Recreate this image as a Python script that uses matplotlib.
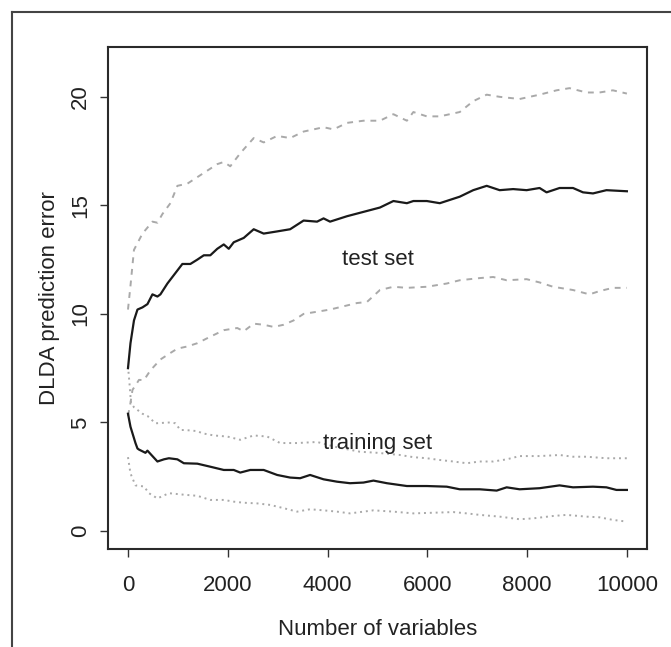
import matplotlib
matplotlib.use("Agg")
import matplotlib.pyplot as plt
from matplotlib.lines import Line2D

plt.rcParams['font.family'] = ['Liberation Sans', 'DejaVu Sans']

# test set: upper band (dashed), mean (solid), lower band (dashed)
test_hi_x = [0, 50, 120, 290, 490, 590, 690, 850, 990, 1190, 1390, 1590, 1790, 1920, 2050, 2250,
             2520, 2720, 2990, 3250, 3520, 3920, 4120, 4390, 4720, 5050, 5320, 5590, 5720, 5990,
             6250, 6650, 6920, 7190, 7450, 7850, 8250, 8590, 8850, 9190, 9450, 9720, 10000]
test_hi_y = [10.2, 11.3, 12.95, 13.7, 14.25, 14.2, 14.6, 15.1, 15.9, 16.0, 16.3, 16.6, 16.9, 17.0, 16.8, 17.4,
             18.1, 17.9, 18.2, 18.1, 18.4, 18.6, 18.5, 18.8, 18.9, 18.9, 19.2, 18.9, 19.3, 19.1,
             19.1, 19.3, 19.8, 20.1, 20.0, 19.9, 20.1, 20.3, 20.4, 20.2, 20.2, 20.3, 20.15]

test_x = [0, 50, 120, 190, 290, 390, 490, 590, 650, 790, 990, 1090, 1250, 1390, 1520, 1650, 1790,
          1920, 2020, 2120, 2320, 2520, 2720, 2990, 3250, 3520, 3790, 3920, 4050, 4390, 4720, 5050,
          5320, 5590, 5720, 5990, 6250, 6650, 6920, 7190, 7450, 7720, 7990, 8250, 8390, 8650, 8920,
          9120, 9320, 9590, 10000]
test_y = [7.5, 8.65, 9.7, 10.2, 10.3, 10.45, 10.9, 10.8, 10.9, 11.4, 12.0, 12.3, 12.3, 12.5, 12.7, 12.7, 13.0,
          13.2, 13.0, 13.3, 13.5, 13.9, 13.7, 13.8, 13.9, 14.3, 14.25, 14.4, 14.25, 14.5, 14.7, 14.9,
          15.2, 15.1, 15.2, 15.2, 15.1, 15.4, 15.7, 15.9, 15.7, 15.75, 15.7, 15.8, 15.6, 15.8, 15.8,
          15.6, 15.55, 15.7, 15.65]

test_lo_x = [0, 50, 90, 150, 220, 320, 450, 650, 850, 990, 1190, 1390, 1650, 1920, 2190, 2320, 2520,
             2720, 2920, 3120, 3320, 3520, 3790, 4050, 4320, 4590, 4790, 5050, 5320, 5590, 5990, 6390,
             6650, 7050, 7320, 7590, 7990, 8250, 8520, 8920, 9250, 9450, 9720, 10000]
test_lo_y = [5.3, 5.9, 6.5, 6.7, 6.96, 6.95, 7.4, 7.9, 8.2, 8.4, 8.5, 8.65, 8.95, 9.25, 9.35, 9.2, 9.55,
             9.5, 9.4, 9.5, 9.7, 10.0, 10.1, 10.2, 10.35, 10.5, 10.55, 11.1, 11.25, 11.2, 11.25, 11.4,
             11.55, 11.65, 11.7, 11.55, 11.6, 11.45, 11.25, 11.1, 10.9, 11.05, 11.2, 11.2]

# training set: upper band (dotted), mean (solid), lower band (dotted)
train_hi_x = [0, 30, 60, 120, 290, 390, 550, 850, 950, 1050, 1150, 1390, 1490, 1720, 1990, 2250,
              2520, 2790, 3050, 3390, 3790, 4200, 4650, 5000, 5450, 5720, 5990, 6250, 6520, 6790,
              7050, 7320, 7590, 7850, 8250, 8650, 8920, 9190, 9590, 10000]
train_hi_y = [7.6, 6.8, 5.9, 5.7, 5.4, 5.3, 4.96, 5.0, 4.96, 4.65, 4.65, 4.6, 4.5, 4.4, 4.35, 4.2,
              4.4, 4.35, 4.05, 4.05, 4.1, 3.85, 3.65, 3.6, 3.5, 3.4, 3.35, 3.27, 3.2, 3.12,
              3.2, 3.2, 3.3, 3.45, 3.45, 3.5, 3.42, 3.42, 3.35, 3.35]

train_x = [0, 50, 90, 150, 190, 220, 350, 390, 590, 720, 820, 990, 1120, 1390, 1650, 1920, 2120, 2250,
           2450, 2720, 2990, 3250, 3450, 3650, 3920, 4190, 4450, 4720, 4920, 5190, 5590, 5990, 6390,
           6650, 7050, 7390, 7590, 7850, 8250, 8650, 8920, 9320, 9590, 9790, 10000]
train_y = [5.4, 4.8, 4.5, 4.05, 3.8, 3.75, 3.6, 3.7, 3.2, 3.3, 3.35, 3.3, 3.12, 3.1, 2.96, 2.81, 2.81, 2.69,
           2.81, 2.81, 2.58, 2.46, 2.43, 2.58, 2.38, 2.27, 2.2, 2.23, 2.32, 2.2, 2.07, 2.07, 2.04,
           1.92, 1.92, 1.86, 2.01, 1.92, 1.97, 2.1, 2.01, 2.04, 2.01, 1.89, 1.89]

train_lo_x = [0, 50, 150, 320, 420, 590, 820, 1120, 1390, 1650, 1920, 2120, 2320, 2590, 2850, 3120,
              3390, 3650, 3920, 4190, 4450, 4720, 4920, 5320, 5720, 6120, 6520, 6790, 7050, 7450,
              7850, 8120, 8520, 8790, 9190, 9450, 9720, 10000]
train_lo_y = [3.4, 2.65, 2.1, 2.05, 1.74, 1.5, 1.74, 1.67, 1.62, 1.43, 1.43, 1.35, 1.3, 1.27, 1.2, 1.05,
              0.89, 1.0, 0.95, 0.89, 0.81, 0.89, 0.95, 0.89, 0.81, 0.84, 0.87, 0.81, 0.74, 0.66,
              0.54, 0.58, 0.69, 0.74, 0.66, 0.63, 0.51, 0.43]

x_ticks = [0, 2000, 4000, 6000, 8000, 10000]
y_ticks = [0, 5, 10, 15, 20]

fig = plt.figure(figsize=(6.71, 6.47), dpi=100)
ax = fig.add_axes([0.161, 0.1515, 0.803, 0.776])

gray = '#a9a9a9'
ax.plot(test_hi_x, test_hi_y, color=gray, lw=1.4, linestyle=(0, (3, 3)))
ax.plot(test_lo_x, test_lo_y, color=gray, lw=1.4, linestyle=(0, (3, 3)))
ax.plot(train_hi_x, train_hi_y, color=gray, lw=1.4, linestyle=(0, (1, 2)))
ax.plot(train_lo_x, train_lo_y, color=gray, lw=1.4, linestyle=(0, (1, 2)))
ax.plot(test_x, test_y, color='#1a1a1a', lw=1.6)
ax.plot(train_x, train_y, color='#1a1a1a', lw=1.6)

fs = 16
ax.text(5000, 12.5, "test set", ha='center', va='center', fontsize=fs, color='#222222')
ax.text(5000, 4.05, "training set", ha='center', va='center', fontsize=fs, color='#222222')

ax.set_xlim(-400, 10400)
ax.set_ylim(-0.83, 22.3)
ax.set_xticks(x_ticks)
ax.set_yticks(y_ticks)
ax.tick_params(axis='both', length=6, width=1, color='#333333', labelsize=fs,
               labelcolor='#222222')
ax.tick_params(axis='x', pad=13)
ax.tick_params(axis='y', pad=6)
for lab in ax.get_yticklabels():
    lab.set_rotation(90)
    lab.set_va('center')

for s in ax.spines.values():
    s.set_linewidth(1.5)
    s.set_color('#2a2a2a')

ax.set_xlabel("Number of variables", fontsize=fs, color='#222222')
ax.set_ylabel("DLDA prediction error", fontsize=fs, color='#222222')
ax.xaxis.set_label_coords(0.5, -0.16)
ax.xaxis.label.set_va('center')
ax.yaxis.set_label_coords(-0.108, 0.5)
ax.yaxis.label.set_va('center')

# outer frame, cut off on the right and bottom
fx = 12 / 671
fy = 1 - 12 / 647
fig.add_artist(Line2D([fx, fx], [0, fy], transform=fig.transFigure, color='#444444', lw=1.5))
fig.add_artist(Line2D([fx, 1], [fy, fy], transform=fig.transFigure, color='#444444', lw=1.5))

fig.savefig("out.png", dpi=100)
